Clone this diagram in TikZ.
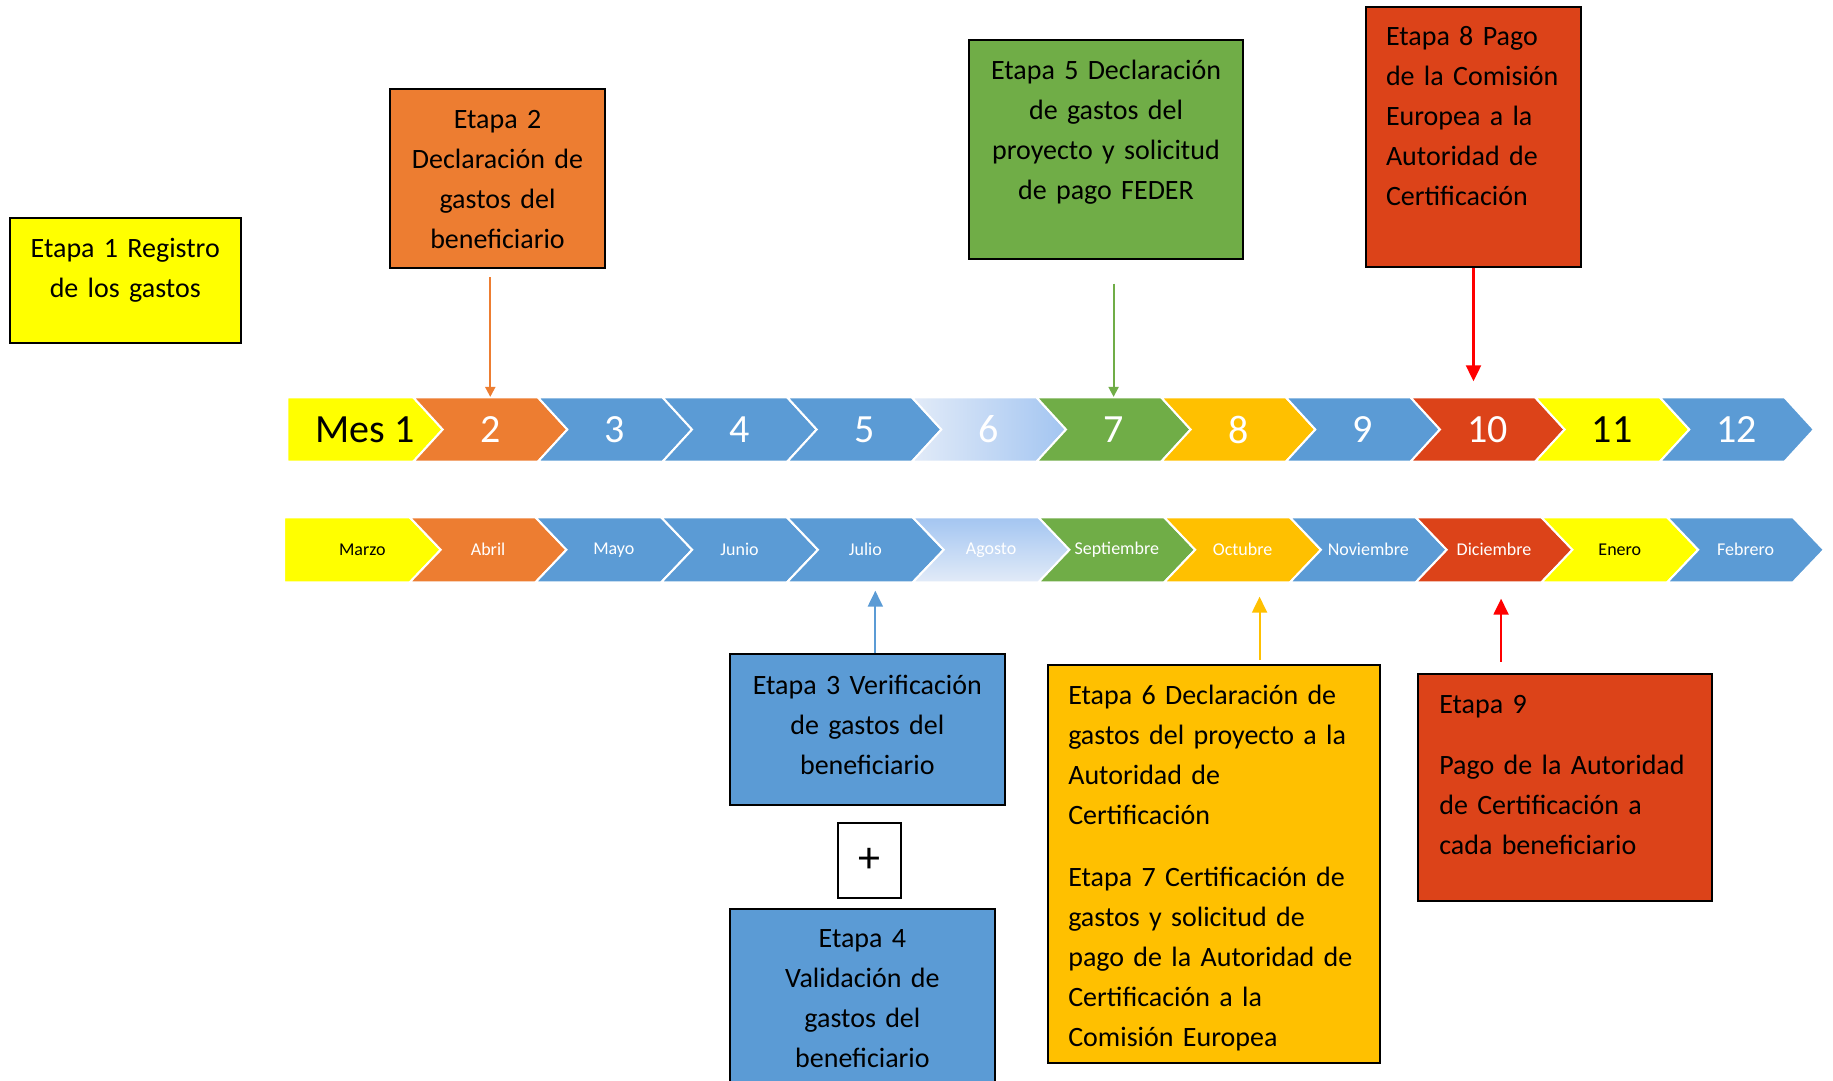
\documentclass[tikz,border=0pt]{standalone}
\usepackage{fontspec}
\setmainfont{Carlito}
\usetikzlibrary{arrows.meta}
\usetikzlibrary{positioning}
\definecolor{cY}{HTML}{FFFF00}
\definecolor{cO}{HTML}{ED7D31}
\definecolor{cB}{HTML}{5B9BD5}
\definecolor{cG}{HTML}{70AD47}
\definecolor{cA}{HTML}{FFC000}
\definecolor{cR}{HTML}{DC4319}
\definecolor{cL}{HTML}{A3C5F1}
\definecolor{cLL}{HTML}{E2EBF8}

\begin{document}
\begin{tikzpicture}[x=0.5pt, y=-0.5pt,
  fY/.style={fill=cY}, fO/.style={fill=cO}, fB/.style={fill=cB},
  fG/.style={fill=cG}, fA/.style={fill=cA}, fR/.style={fill=cR},
  fL/.style={left color=cLL, right color=cL},
  fV/.style={top color=cL, bottom color=cLL},
  mes/.style={inner sep=0pt, font=\fontsize{20}{24}\selectfont},
  mesname/.style={inner sep=0pt, font=\fontsize{9}{11}\selectfont},
  etapa/.style={draw, line width=1pt, anchor=north west, inner xsep=5pt, inner ysep=0pt, align=center, font=\fontsize{14}{20}\selectfont},
  down/.style={-{Triangle[width=5pt,length=5pt]}, line width=1pt},
  big/.style={-{Triangle[width=7.5pt,length=8pt]}, line width=1pt}]
\useasboundingbox (0,0) rectangle (1833,1081);

% Months, top row
\foreach \k/\lab/\sty/\tc in {1/Mes 1/fY/black, 2/2/fO/white, 3/3/fB/white, 4/4/fB/white, 5/5/fB/white, 6/6/fL/white,
  7/7/fG/white, 8/8/fA/white, 9/9/fB/white, 10/10/fR/white, 11/11/fY/black, 12/12/fB/white}{
  \pgfmathsetmacro\tp{442.7+(\k-1)*124.66}
  \pgfmathsetmacro\lf{\k==1 ? 287.3 : \tp-124.66-29.5}
  \pgfmathsetmacro\nt{\k==1 ? 287.3 : \tp-124.66}
  \pgfmathsetmacro\cx{(\lf+\tp)/2}
  \pgfmathsetmacro\w{(\tp-\lf)/2}
  \path[\sty, draw=white, line width=1pt] (\lf,397.3) -- (\tp-29.5,397.3) -- (\tp,429.5) -- (\tp-29.5,461.7) -- (\lf,461.7) -- (\nt,429.5) -- cycle;
  \node[mes, text=\tc, minimum width=\w pt, minimum height=32.2pt] (m\k) at (\cx,429.5) {\lab};
}

% Months, bottom row
\foreach \k/\lab/\sty/\tc in {1/Marzo/fY/black, 2/Abril/fO/white, 3/Mayo/fB/white, 4/Junio/fB/white, 5/Julio/fB/white, 6/Agosto/fV/white,
  7/Septiembre/fG/white, 8/Octubre/fA/white, 9/Noviembre/fB/white, 10/Diciembre/fR/white, 11/Enero/fY/black, 12/Febrero/fB/white}{
  \pgfmathsetmacro\tp{440.7+(\k-1)*125.75}
  \pgfmathsetmacro\lf{\k==1 ? 284 : \tp-125.75-31}
  \pgfmathsetmacro\nt{\k==1 ? 284 : \tp-125.75}
  \pgfmathsetmacro\cx{(\lf+\tp)/2}
  \pgfmathsetmacro\w{(\tp-\lf)/2}
  \path[\sty, draw=white, line width=1pt] (\lf,517.3) -- (\tp-31,517.3) -- (\tp,549.8) -- (\tp-31,582.3) -- (\lf,582.3) -- (\nt,549.8) -- cycle;
  \node[mesname, text=\tc, minimum width=\w pt, minimum height=32.5pt] (o\k) at (\cx,549.8) {\lab};
}

% Stages
\node[etapa, fill=cY, text width=105.75pt, text height=19.7pt, text depth=42.5pt] (e1) at (8.5,217.3) {Etapa 1 Registro\\de los gastos};
\node[etapa, fill=cO, text width=97.5pt, text height=19.7pt, text depth=69.8pt] (e2) at (389,88.3) {Etapa 2\\Declaración de\\gastos del\\beneficiario};
\node[etapa, fill=cG, text width=127pt, text height=19.65pt, text depth=89.7pt] (e5) at (968,39) {Etapa 5 Declaración\\de gastos del\\proyecto y solicitud\\de pago FEDER};
\node[etapa, fill=cR, align=left, inner xsep=10pt, text width=87.5pt, text height=19.65pt, text depth=110.5pt] (e8) at (1365,5.7) {Etapa 8 Pago\\de la Comisión\\Europea a la\\Autoridad de\\Certificación};
\node[etapa, fill=cB, text width=127.3pt, text height=20pt, text depth=55.35pt] (e3) at (729,653.3) {Etapa 3 Verificación\\de gastos del\\beneficiario};
\node[etapa, fill=white, minimum width=31.3pt, minimum height=37.8pt, inner sep=0pt, font=\fontsize{22}{24}\selectfont] (plus) at (837,821.7) {+};
\node[etapa, fill=cB, text width=122.4pt, text height=19.2pt, text depth=100pt] (e4) at (729,908.3) {Etapa 4\\Validación de\\gastos del\\beneficiario};
\node[etapa, fill=cA, align=left, inner xsep=10pt, text width=145.65pt, text height=19.65pt, text depth=179.2pt] (e67) at (1047.3,664) {Etapa 6 Declaración de\\gastos del proyecto a la\\Autoridad de\\Certificación\\[11pt]Etapa 7 Certificación de\\gastos y solicitud de\\pago de la Autoridad de\\Certificación a la\\Comisión Europea};
\node[etapa, fill=cR, align=left, inner xsep=10.5pt, text width=125.7pt, text height=19.8pt, text depth=93.85pt] (e9) at (1417.3,672.7) {Etapa 9\\[10.5pt]Pago de la Autoridad\\de Certificación a\\cada beneficiario};

% Arrows
\coordinate (t5) at ([xshift=5pt]o5.south);
\coordinate (t8) at ([xshift=8.5pt]o8.south);
\coordinate (t10) at ([xshift=3.5pt]o10.south);
\draw[down, cO, shorten <=4pt] (m2 |- e2.south) -- (m2.north);
\draw[down, cG, shorten <=12pt] (m7 |- e5.south) -- (m7.north);
\draw[big, red, line width=1.1pt, shorten >=7.8pt] (e8.south) -- (e8.south |- m10.north);
\draw[big, cB, shorten >=4pt] (t5 |- e3.north) -- (t5);
\draw[big, cA, shorten <=2pt, shorten >=7pt] (t8 |- e67.north) -- (t8);
\draw[big, red, line width=1.1pt, shorten <=5.5pt, shorten >=8pt] (t10 |- e9.north) -- (t10);
\end{tikzpicture}
\end{document}
